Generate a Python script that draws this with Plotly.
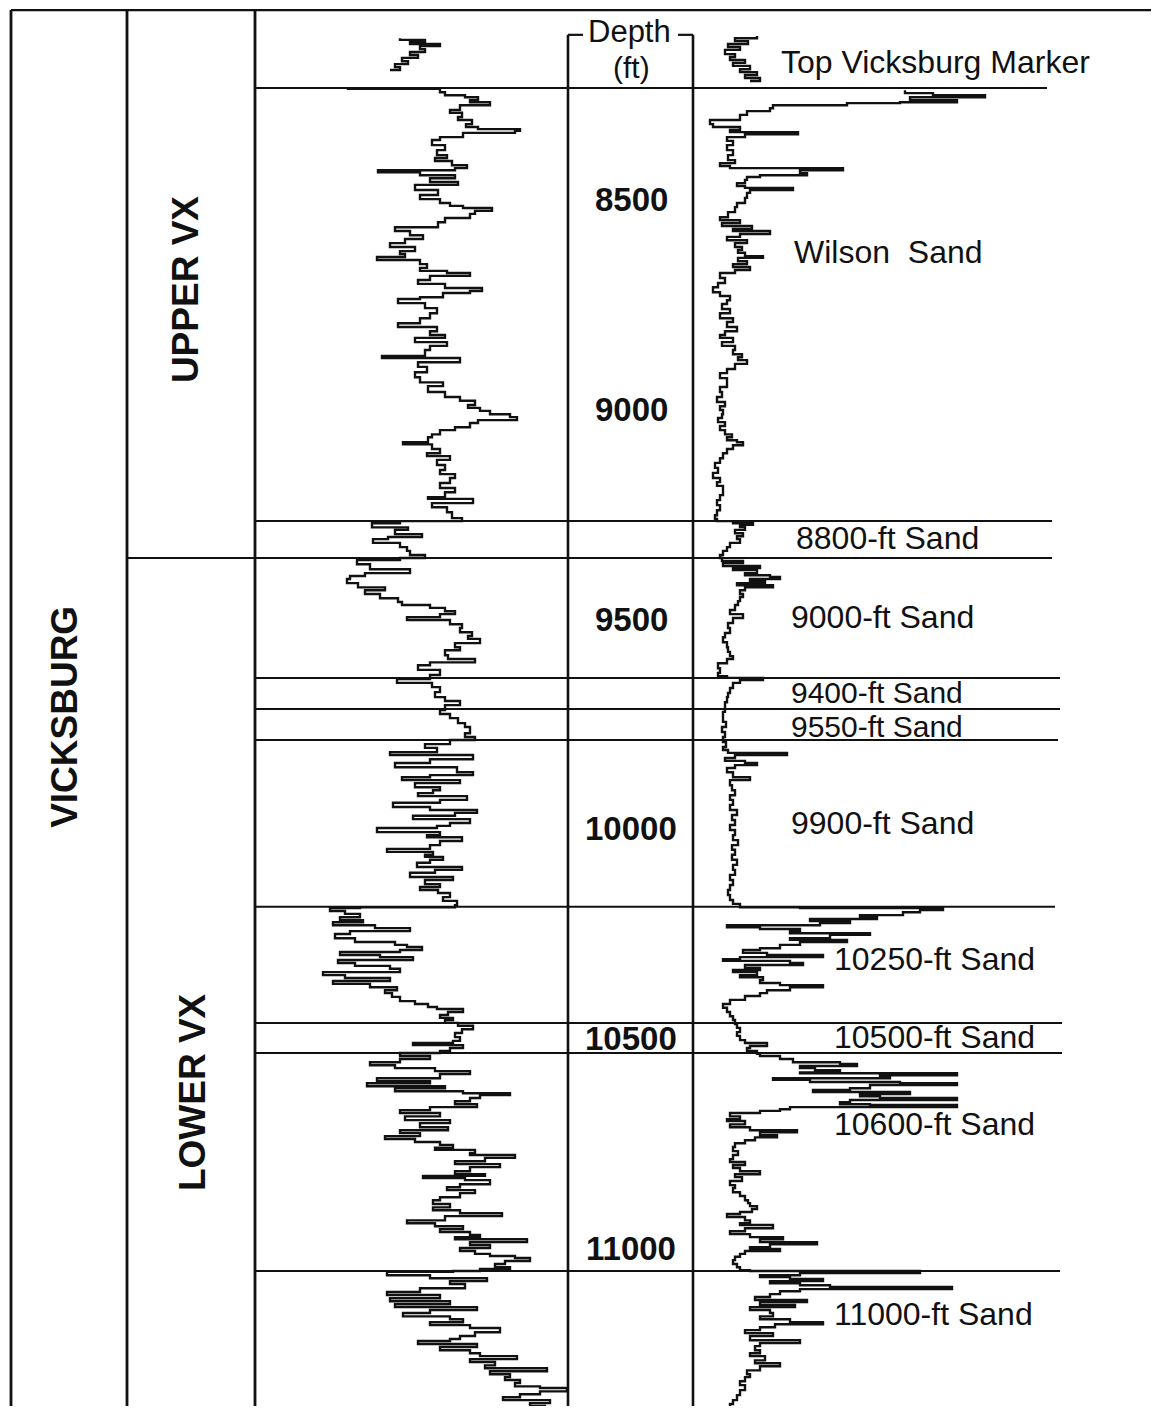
import plotly.graph_objects as go

# ---------------- DATA ----------------
# Formation tops (depth, ft)
tops_depth = [8233, 9266, 9354, 9640, 9714, 9788, 10186, 10463, 10535, 11055]

# Depth scale labels (ft)
depth_ticks = [8500, 9000, 9500, 10000, 10500, 11000]

# Sand names and the depth they are written at
sand_names = ["Top Vicksburg Marker", "Wilson\u00a0 Sand", "8800-ft Sand", "9000-ft Sand",
              "9400-ft Sand", "9550-ft Sand", "9900-ft Sand", "10250-ft Sand",
              "10500-ft Sand", "10600-ft Sand", "11000-ft Sand"]
sand_label_depth = [8171, 8624, 9306, 9495, 9674, 9755, 9986, 10311, 10497, 10704, 11157]

# Unit names (rotated) and their mid depths
unit_names = ["VICKSBURG", "UPPER VX", "LOWER VX"]
unit_depth = [9733, 8715, 10628]

# Left log curve (depth ft, deflection)
left_log = [
(8233,348),(8235,440),(8243,445),(8250,465),(8255,478),(8262,470),(8267,490),(8274,460),(8285,450),(8292,462),
(8302,458),(8309,472),(8319,466),(8326,478),(8331,520),(8335,515),(8340,463),(8350,440),(8357,432),(8369,445),
(8381,437),(8393,447),(8400,435),(8407,452),(8417,467),(8424,455),(8429,378),(8434,420),(8441,455),(8448,430),
(8457,458),(8464,415),(8476,438),(8488,420),(8498,440),(8507,450),(8514,463),(8519,492),(8526,475),(8533,470),
(8543,445),(8553,438),(8565,395),(8574,410),(8584,423),(8593,405),(8603,390),(8612,415),(8622,400),(8629,405),
(8636,377),(8643,420),(8653,427),(8662,420),(8669,447),(8674,470),(8681,430),(8691,418),(8700,445),(8710,482),
(8717,470),(8722,443),(8732,420),(8736,398),(8746,425),(8758,437),(8770,430),(8782,420),(8794,398),(8803,437),
(8813,430),(8822,445),(8829,415),(8839,447),(8848,430),(8858,425),(8872,382),(8877,460),(8887,418),(8898,427),
(8911,415),(8923,420),(8935,443),(8944,428),(8958,445),(8970,460),(8979,475),(8989,468),(8996,480),(9003,490),
(9011,510),(9018,517),(9025,478),(9032,470),(9042,455),(9049,440),(9059,432),(9066,428),(9078,403),(9083,432),
(9094,440),(9104,427),(9111,450),(9120,437),(9132,445),(9144,440),(9154,455),(9163,450),(9175,440),(9187,455),
(9197,445),(9209,428),(9213,473),(9223,432),(9233,447),(9245,452),(9259,462),(9266,400),(9271,372),(9281,408),
(9287,395),(9297,422),(9304,388),(9309,373),(9318,400),(9328,407),(9337,410),(9347,425),(9354,400),(9359,357),
(9369,370),(9381,410),(9390,365),(9397,350),(9404,347),(9414,358),(9424,385),(9431,365),(9440,380),(9450,398),
(9459,402),(9466,430),(9473,445),(9481,455),(9488,440),(9495,407),(9502,450),(9512,462),(9521,460),(9531,472),
(9540,468),(9547,480),(9557,455),(9567,460),(9574,445),(9586,448),(9595,475),(9603,430),(9610,418),(9621,440),
(9633,430),(9643,397),(9652,432),(9662,440),(9674,435),(9686,445),(9695,460),(9705,445),(9717,440),(9726,450),
(9736,458),(9748,465),(9757,470),(9772,465),(9781,475),(9788,450),(9798,425),(9807,437),(9817,390),(9824,473),
(9834,430),(9843,395),(9853,457),(9865,473),(9872,430),(9877,402),(9884,460),(9891,415),(9901,440),(9908,433),
(9915,418),(9922,467),(9931,440),(9938,393),(9948,430),(9955,477),(9962,455),(9969,413),(9977,470),(9986,450),
(9993,437),(9998,377),(10008,440),(10015,427),(10020,462),(10029,440),(10039,430),(10048,387),(10055,433),(10062,425),
(10067,443),(10074,430),(10081,417),(10091,462),(10098,435),(10105,410),(10115,453),(10122,425),(10132,440),(10139,420),
(10146,438),(10153,450),(10163,443),(10172,457),(10182,455),(10187,360),(10189,330),(10196,345),(10203,360),(10211,340),
(10218,363),(10223,333),(10230,375),(10237,410),(10244,350),(10251,335),(10261,355),(10270,395),(10277,407),(10282,422),
(10289,400),(10294,340),(10301,380),(10306,413),(10313,338),(10320,355),(10327,390),(10334,400),(10342,323),(10349,345),
(10356,390),(10363,333),(10370,370),(10378,397),(10385,385),(10392,392),(10401,400),(10411,415),(10418,428),(10425,437),
(10430,463),(10437,448),(10444,440),(10451,453),(10456,445),(10463,458),(10470,473),(10478,462),(10487,455),(10497,460),
(10506,453),(10511,413),(10516,463),(10523,450),(10530,440),(10535,400),(10542,430),(10549,400),(10557,370),(10564,395),
(10571,435),(10578,470),(10585,440),(10595,377),(10602,430),(10607,367),(10614,445),(10619,395),(10626,463),(10631,510),
(10635,480),(10642,470),(10650,455),(10657,477),(10664,430),(10671,400),(10678,440),(10686,405),(10695,450),(10702,420),
(10712,448),(10719,400),(10726,420),(10733,385),(10740,415),(10747,440),(10754,453),(10761,435),(10766,475),(10773,470),
(10778,515),(10785,485),(10793,455),(10800,500),(10807,470),(10817,455),(10824,485),(10828,423),(10833,465),(10838,490),
(10848,460),(10855,447),(10862,475),(10869,460),(10879,440),(10886,433),(10895,450),(10903,433),(10910,460),(10917,502),
(10924,445),(10934,407),(10941,435),(10948,463),(10955,440),(10962,470),(10969,480),(10974,455),(10979,527),(10986,470),
(10993,490),(11000,460),(11007,475),(11014,490),(11019,515),(11024,530),(11031,505),(11038,495),(11046,510),(11050,480),
(11055,453),(11057,387),(11065,430),(11072,487),(11079,450),(11086,465),(11096,420),(11105,387),(11112,440),(11120,390),
(11127,450),(11134,395),(11141,477),(11148,430),(11155,403),(11163,450),(11170,463),(11177,430),(11184,470),(11191,500),
(11201,475),(11210,460),(11217,450),(11222,418),(11229,477),(11236,440),(11244,470),(11251,480),(11258,517),(11265,470),
(11272,495),(11280,485),(11287,547),(11294,490),(11301,510),(11308,505),(11315,520),(11322,515),(11330,540),(11334,567),
(11342,540),(11349,520),(11356,503),(11363,550),(11370,530),(11377,545),(11385,520),(11392,483),(11396,567)]

# Right log curve (depth ft, deflection)
right_log = [
(8238,905),(8245,933),(8250,985),(8255,910),(8262,957),(8267,900),(8269,847),(8274,773),(8281,770),(8288,747),
(8297,740),(8309,710),(8319,713),(8326,740),(8333,730),(8338,798),(8343,745),(8350,727),(8359,733),(8369,727),
(8381,733),(8393,728),(8405,735),(8412,720),(8419,730),(8424,843),(8429,800),(8436,807),(8441,760),(8445,747),
(8452,745),(8460,737),(8467,745),(8471,793),(8476,750),(8483,747),(8495,745),(8507,737),(8517,735),(8529,728),
(8541,720),(8548,740),(8555,722),(8562,752),(8569,733),(8574,770),(8581,740),(8588,727),(8596,747),(8603,735),
(8612,742),(8619,738),(8626,745),(8634,763),(8638,738),(8646,747),(8653,733),(8660,750),(8667,735),(8674,720),
(8686,725),(8698,718),(8708,713),(8720,720),(8729,730),(8739,727),(8748,722),(8760,730),(8770,720),(8782,733),
(8791,727),(8803,737),(8813,725),(8822,720),(8829,733),(8839,722),(8848,735),(8858,733),(8868,742),(8875,738),
(8882,747),(8891,735),(8903,727),(8913,720),(8925,727),(8937,727),(8946,720),(8958,722),(8970,717),(8982,725),
(8992,720),(9001,723),(9011,722),(9020,718),(9030,725),(9039,720),(9049,725),(9059,732),(9066,727),(9073,737),
(9078,743),(9085,733),(9094,727),(9104,723),(9116,720),(9127,715),(9139,718),(9151,713),(9163,720),(9173,717),
(9182,723),(9192,723),(9204,720),(9216,717),(9228,720),(9240,717),(9252,715),(9261,717),(9266,733),(9271,753),
(9275,740),(9280,745),(9287,735),(9295,743),(9302,737),(9309,740),(9318,730),(9328,727),(9337,723),(9347,720),
(9354,722),(9361,743),(9366,723),(9373,760),(9378,733),(9383,757),(9390,745),(9395,770),(9399,780),(9404,750),
(9409,765),(9414,737),(9419,773),(9424,745),(9431,740),(9440,743),(9447,740),(9457,738),(9466,735),(9478,730),
(9488,743),(9497,733),(9509,728),(9521,730),(9533,725),(9543,723),(9555,727),(9567,728),(9578,730),(9588,733),
(9595,727),(9605,718),(9617,720),(9628,718),(9636,727),(9640,763),(9645,740),(9652,733),(9664,730),(9676,728),
(9686,727),(9698,725),(9710,725),(9721,723),(9733,723),(9745,726),(9757,722),(9769,725),(9781,723),(9793,726),
(9805,723),(9812,728),(9819,787),(9824,735),(9831,725),(9838,745),(9843,757),(9848,735),(9855,727),(9865,733),
(9877,750),(9884,730),(9896,732),(9908,735),(9920,730),(9931,733),(9943,730),(9955,737),(9967,732),(9979,735),
(9991,730),(10003,735),(10015,733),(10027,738),(10039,732),(10050,735),(10062,732),(10074,737),(10086,733),(10098,735),
(10110,730),(10122,733),(10134,730),(10146,728),(10158,730),(10170,733),(10179,740),(10187,800),(10189,943),(10194,920),
(10199,903),(10206,860),(10211,877),(10215,810),(10220,850),(10225,820),(10230,727),(10235,760),(10239,800),(10244,790),
(10249,870),(10253,830),(10261,790),(10265,847),(10270,800),(10277,780),(10285,760),(10289,743),(10296,767),(10301,823),
(10306,740),(10311,723),(10315,790),(10320,803),(10325,745),(10332,760),(10337,733),(10342,757),(10349,740),(10354,763),
(10361,760),(10368,780),(10373,823),(10378,790),(10385,767),(10392,760),(10399,745),(10408,730),(10418,723),(10427,727),
(10437,730),(10447,733),(10456,735),(10466,737),(10475,740),(10485,737),(10494,740),(10504,745),(10511,767),(10518,750),
(10523,747),(10530,757),(10537,760),(10542,780),(10549,793),(10557,840),(10561,857),(10566,800),(10571,815),(10576,840),
(10581,800),(10583,957),(10588,880),(10593,890),(10595,773),(10599,810),(10604,900),(10607,957),(10611,870),(10619,850),
(10623,813),(10628,910),(10633,860),(10638,880),(10642,957),(10647,850),(10652,840),(10657,870),(10659,957),(10664,790),
(10669,780),(10673,760),(10678,730),(10686,740),(10693,727),(10697,745),(10705,730),(10712,750),(10719,797),(10724,760),
(10731,777),(10736,755),(10743,745),(10750,735),(10759,733),(10769,738),(10778,733),(10788,730),(10795,745),(10802,733),
(10809,740),(10817,760),(10824,735),(10831,742),(10840,730),(10850,735),(10857,733),(10867,740),(10876,745),(10886,748),
(10893,750),(10900,757),(10907,752),(10914,740),(10919,727),(10926,745),(10934,750),(10941,740),(10945,773),(10953,745),
(10960,730),(10967,750),(10974,783),(10979,760),(10986,817),(10991,770),(10998,750),(11002,780),(11007,745),(11014,740),
(11021,735),(11029,733),(11038,737),(11046,740),(11053,750),(11055,920),(11060,800),(11065,760),(11069,790),(11074,823),
(11079,770),(11084,800),(11089,830),(11093,952),(11098,800),(11103,780),(11110,770),(11117,755),(11124,807),(11129,760),
(11136,795),(11141,750),(11148,770),(11155,773),(11163,760),(11170,790),(11177,823),(11182,775),(11189,760),(11196,745),
(11203,773),(11210,750),(11220,800),(11227,760),(11234,755),(11244,760),(11251,750),(11258,765),(11268,755),(11275,780),
(11282,760),(11292,747),(11301,750),(11308,745),(11318,740),(11327,745),(11339,740),(11351,737),(11363,733),(11372,730),
(11382,735),(11392,733),(11396,730)]

# Header legend snippets of each curve
left_header = [(8114,400),(8118,425),(8123,410),(8128,440),(8133,420),(8140,425),(8147,410),
               (8154,418),(8161,402),(8169,408),(8176,395),(8183,400),(8190,390)]
right_header = [(8109,757),(8114,735),(8121,748),(8128,728),(8135,740),(8142,725),(8152,735),(8159,730),
                (8166,745),(8173,733),(8180,750),(8188,740),(8195,757),(8202,745),(8209,760),(8216,750)]

# ---------------- LAYOUT / STYLE ----------------
FONT = "Liberation Sans, Arial, Helvetica, sans-serif"
INK = "#111111"
tops_x0 = [255, 255, 128, 255, 255, 255, 255, 255, 255, 255]
tops_x1 = [1047, 1052, 1052, 1060, 1060, 1058, 1055, 1062, 1062, 1060]
sand_label_x = [780, 793, 795, 790, 790, 790, 790, 833, 833, 833, 833]
sand_label_size = [32, 32, 32, 32, 30, 30, 32, 32, 32, 32, 32]
unit_x = [65, 185, 192]
frame_top = 8047
track_top = 8106
bottom = 11400

fig = go.Figure()
for curve in [left_log, right_log, left_header, right_header]:
    d, v = zip(*curve)
    fig.add_trace(go.Scatter(x=list(v), y=list(d), mode="lines",
                             line=dict(color=INK, width=2.4, shape="vh"),
                             hoverinfo="skip", showlegend=False))

shapes = []
def line(x0, y0, x1, y1, w=2.2):
    shapes.append(dict(type="line", xref="x", yref="y", x0=x0, y0=y0, x1=x1, y1=y1,
                       line=dict(color=INK, width=w), layer="above"))

# frame
line(11, frame_top, 1159, frame_top, 2.2)
for xv in [11, 127, 255]:
    line(xv, frame_top, xv, bottom, 2.8)
for xv in [568, 693]:
    line(xv, track_top, xv, bottom, 2.6)
line(568, track_top, 583, track_top, 2.2)
line(678, track_top, 693, track_top, 2.2)
# formation tops
for d, x0, x1 in zip(tops_depth, tops_x0, tops_x1):
    line(x0, d, x1, d, 2.0)

ann = []
for t in depth_ticks:
    ann.append(dict(x=631, y=t, text=f"<b>{t}</b>", showarrow=False, xanchor="center",
                    yanchor="middle", font=dict(family=FONT, size=33, color=INK)))
for name, d, xl, fs in zip(sand_names, sand_label_depth, sand_label_x, sand_label_size):
    ann.append(dict(x=xl, y=d, text=name, showarrow=False, xanchor="left", yanchor="middle",
                    borderpad=0, font=dict(family=FONT, size=fs, color=INK)))
for name, d, xc in zip(unit_names, unit_depth, unit_x):
    ann.append(dict(x=xc, y=d, text=f"<b>{name}</b>", showarrow=False, textangle=-90,
                    xanchor="center", yanchor="middle", font=dict(family=FONT, size=37, color=INK)))
ann.append(dict(x=629, y=8099, text="Depth", showarrow=False, xanchor="center", yanchor="middle",
                font=dict(family=FONT, size=31, color=INK)))
ann.append(dict(x=631, y=8185, text="(ft)", showarrow=False, xanchor="center", yanchor="middle",
                font=dict(family=FONT, size=30, color=INK)))

fig.update_layout(
    width=1151, height=1398,
    margin=dict(l=0, r=0, t=0, b=0),
    paper_bgcolor="white", plot_bgcolor="white",
    showlegend=False,
    xaxis=dict(range=[8, 1159], visible=False, fixedrange=True),
    yaxis=dict(range=[11376.9, 8042.0], visible=False, fixedrange=True),
    shapes=shapes, annotations=ann,
)
fig.write_html("out.html")
